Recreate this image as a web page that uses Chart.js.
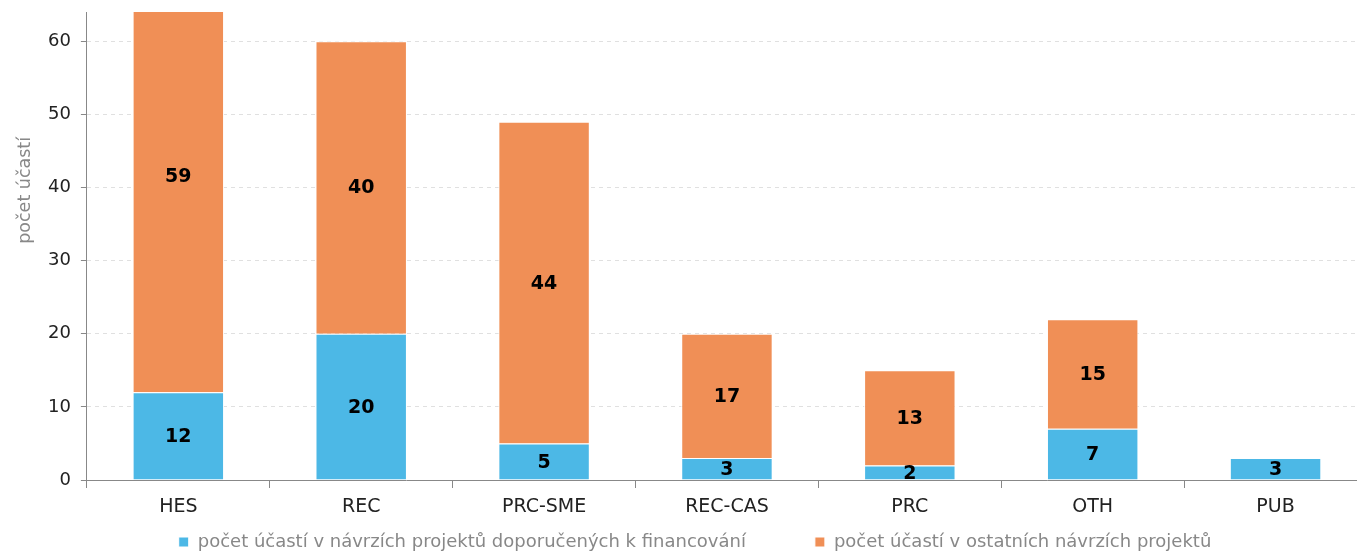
<!DOCTYPE html>
<html>
<head>
<meta charset="utf-8">
<script src="https://cdn.jsdelivr.net/npm/chart.js@4"></script>
<style>
  html, body { margin: 0; padding: 0; background: #fff; overflow: hidden; }
  #wrap { width: 1367px; height: 552px; }
</style>
</head>
<body>
<div id="wrap"><canvas id="statsChart"></canvas></div>
<script>
const categories = ['HES', 'REC', 'PRC-SME', 'REC-CAS', 'PRC', 'OTH', 'PUB'];
const recommended = [12, 20, 5, 3, 2, 7, 3];
const others = [59, 40, 44, 17, 13, 15, null];
const seriesNames = [
    'počet účastí v návrzích projektů doporučených k financování',
    'počet účastí v ostatních návrzích projektů'
];
const yTicks = [0, 10, 20, 30, 40, 50, 60];
const yTitle = 'počet účastí';

const FONT = "'DejaVu Sans', Verdana, sans-serif";

// labels drawn in the middle of each stacked segment
const segmentLabels = {
    id: 'segmentLabels',
    afterDatasetsDraw(chart) {
        const ctx = chart.ctx;
        const y = chart.scales.y;
        ctx.save();
        ctx.font = 'bold 19px ' + FONT;
        ctx.fillStyle = '#000';
        ctx.textAlign = 'center';
        ctx.textBaseline = 'middle';
        chart.data.datasets.forEach((ds, di) => {
            const meta = chart.getDatasetMeta(di);
            ds.data.forEach((v, i) => {
                if (v == null) return;
                let base = 0;
                for (let k = 0; k < di; k++) base += chart.data.datasets[k].data[i] || 0;
                const x = meta.data[i].x;
                ctx.fillText(String(v), x, y.getPixelForValue(base + v / 2) + 1);
            });
        });
        ctx.restore();
    }
};

const ctx = document.getElementById('statsChart').getContext('2d');
const chart = new Chart(ctx, {
    type: 'bar',
    data: {
        labels: categories,
        datasets: [
            {
                label: seriesNames[0] + '           ',
                data: recommended,
                backgroundColor: '#4cb8e6',
                borderColor: '#ffffff',
                borderWidth: 1,
                barPercentage: 0.5,
                categoryPercentage: 1
            },
            {
                label: seriesNames[1],
                data: others,
                backgroundColor: '#f08f56',
                borderColor: '#ffffff',
                borderWidth: 1,
                barPercentage: 0.5,
                categoryPercentage: 1
            }
        ]
    },
    options: {
        responsive: true,
        maintainAspectRatio: false,
        animation: false,
        layout: { padding: { top: 12, left: 13, right: 0, bottom: -9 } },
        plugins: {
            legend: {
                position: 'bottom',
                labels: {
                    color: '#888',
                    font: { family: FONT, size: 18 },
                    boxWidth: 10,
                    boxHeight: 10,
                    padding: 6
                }
            },
            tooltip: { enabled: false }
        },
        scales: {
            x: {
                stacked: true,
                afterFit: axis => { axis.height = 47; },
                ticks: {
                    color: '#222',
                    font: { family: FONT, size: 19 },
                    padding: 8
                },
                grid: {
                    drawOnChartArea: false,
                    tickLength: 8,
                    color: '#888'
                },
                border: { color: '#888', width: 1 }
            },
            y: {
                stacked: true,
                min: 0,
                max: 64,
                afterBuildTicks: axis => {
                    axis.ticks = yTicks.map(v => ({ value: v }));
                },
                afterFit: axis => {
                    axis.paddingTop = 0;
                    axis.paddingBottom = 0;
                },
                ticks: {
                    color: '#222',
                    font: { family: FONT, size: 18 },
                    padding: 10
                },
                title: {
                    display: true,
                    // leading spaces lift the title above the middle, as in the original
                    text: ' '.repeat(20) + yTitle,
                    color: '#888',
                    font: { family: FONT, size: 17.5 },
                    padding: 2
                },
                grid: {
                    color: '#e0e0e0',
                    tickColor: '#888',
                    tickLength: 6,
                    tickBorderDash: []
                },
                border: { color: '#888', width: 1, dash: [4, 4] }
            }
        }
    },
    plugins: [segmentLabels]
});

// the legend sits a little right of centre in the original
const legendDraw = chart.legend.draw.bind(chart.legend);
chart.legend.draw = function () {
    chart.ctx.save();
    chart.ctx.translate(5, 0);
    legendDraw();
    chart.ctx.restore();
};
chart.draw();
</script>
</body>
</html>
